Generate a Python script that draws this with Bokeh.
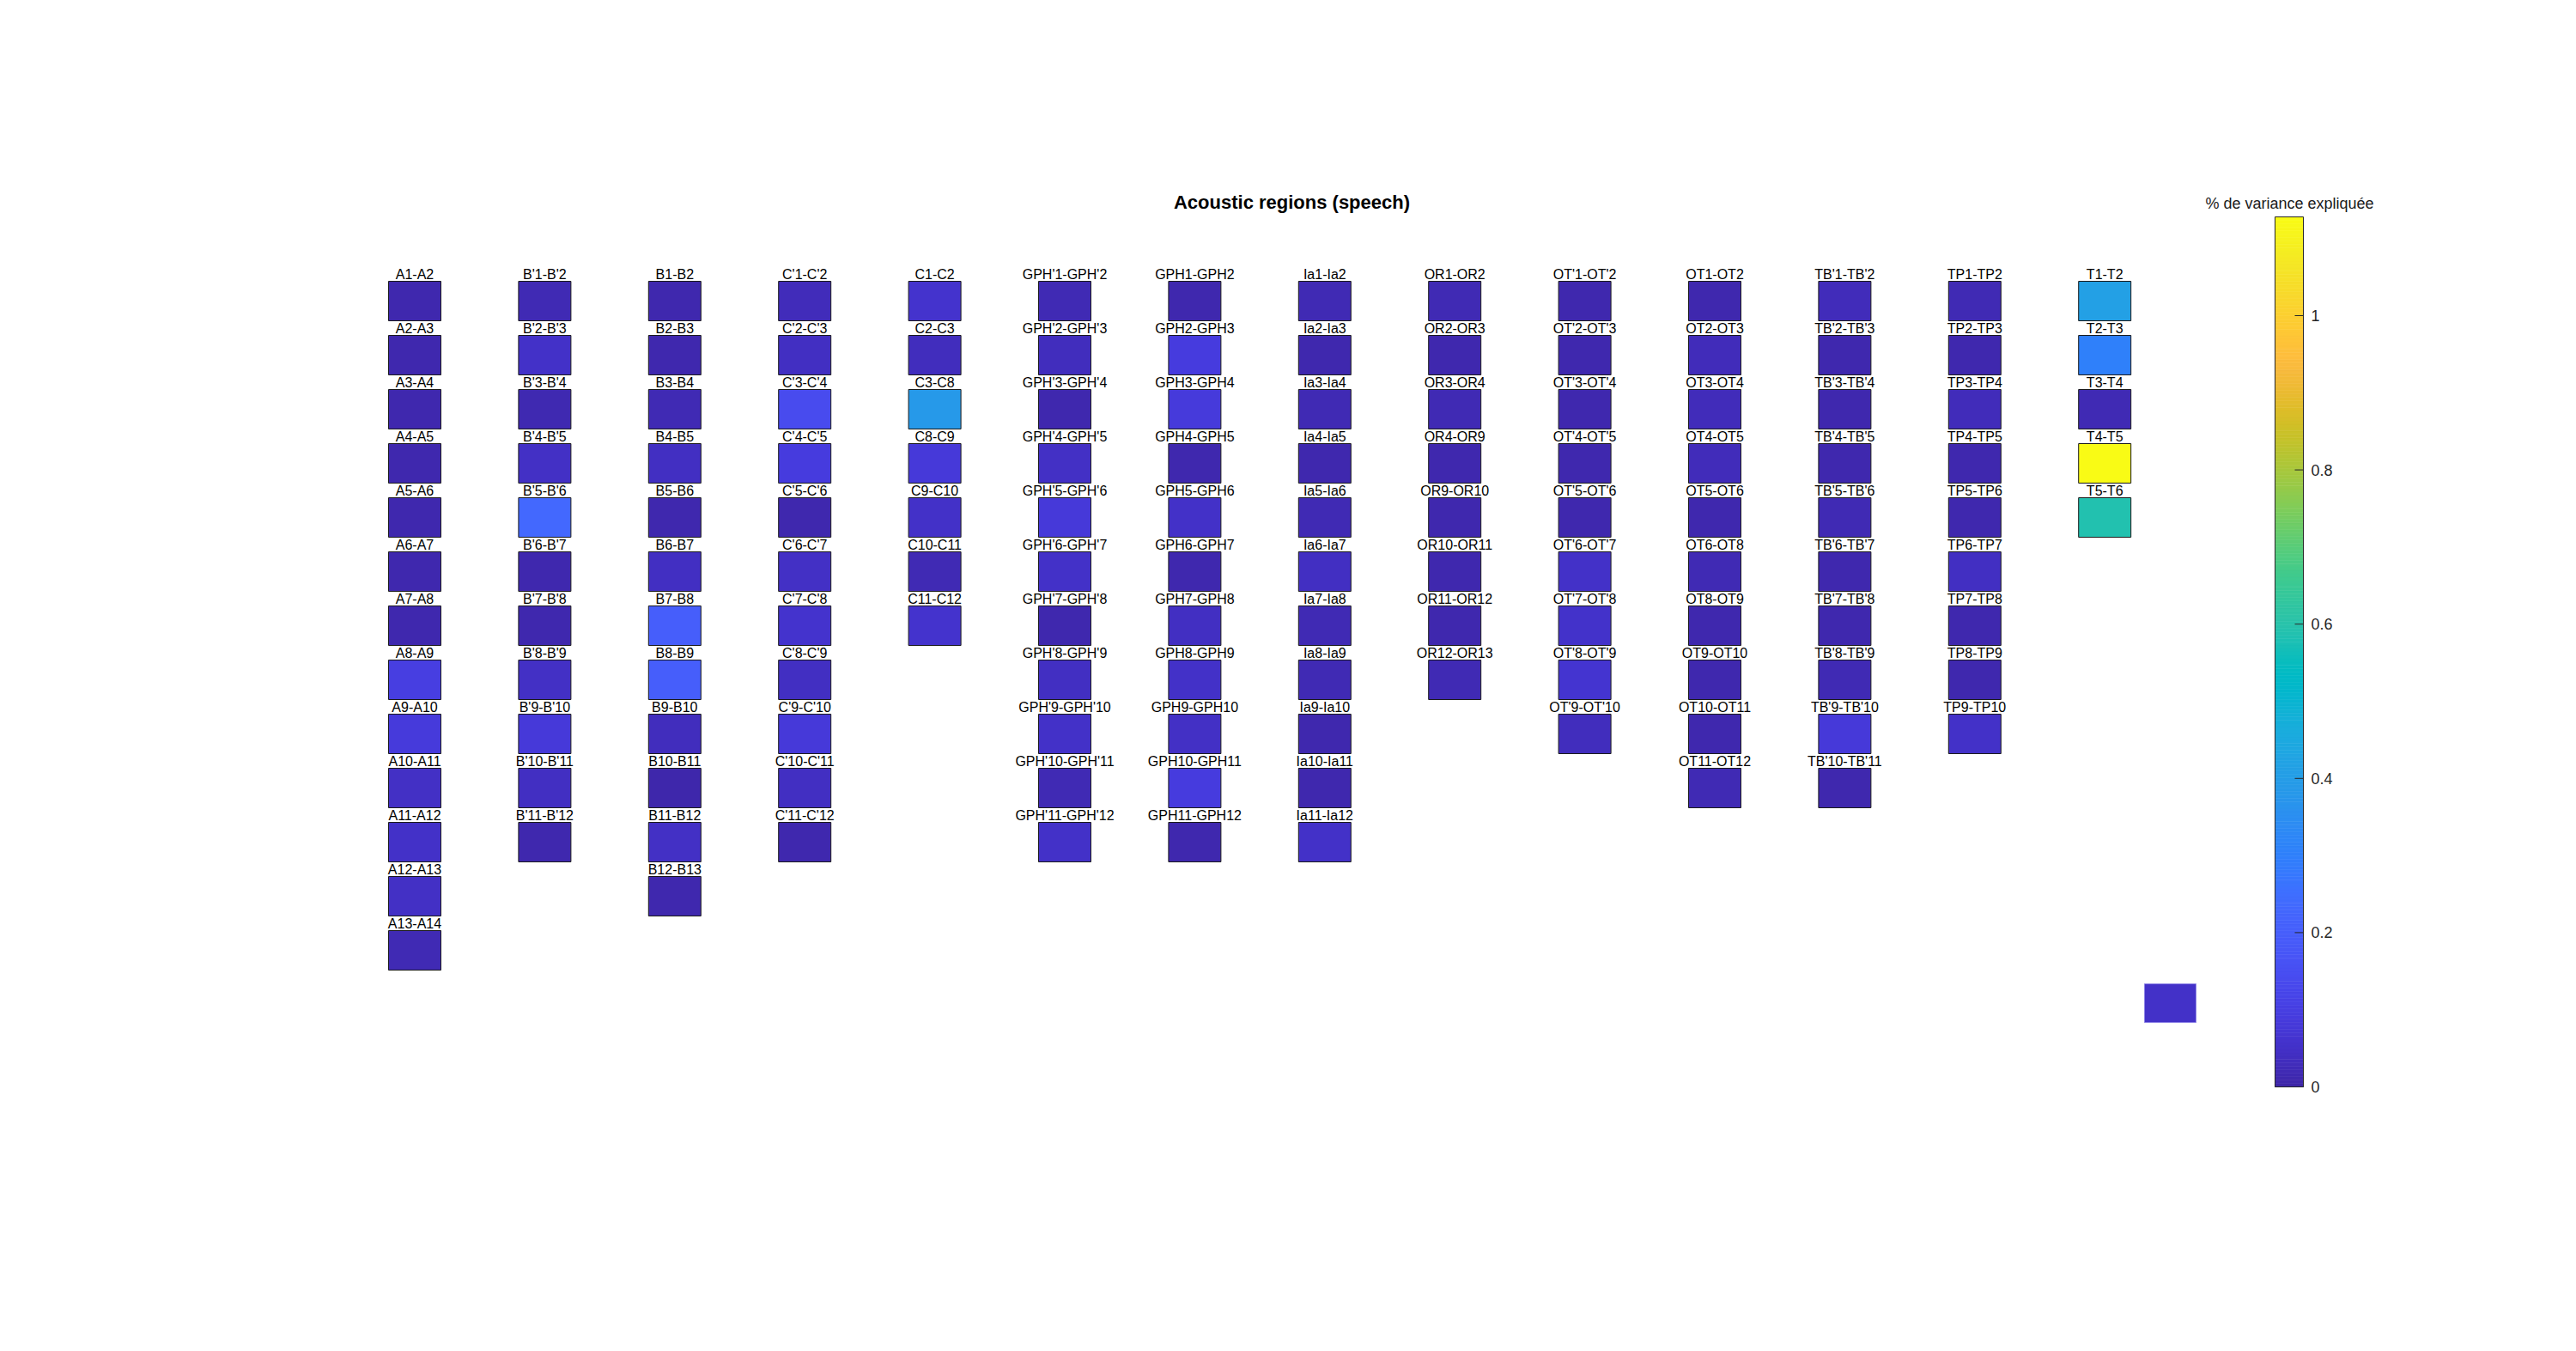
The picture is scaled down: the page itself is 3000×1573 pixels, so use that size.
import numpy as np
from bokeh.plotting import figure
from bokeh.models import Range1d, ColumnDataSource
from bokeh.transform import linear_cmap
from bokeh.core.properties import value
from bokeh.embed import file_html
from bokeh.resources import INLINE

# ---------------- data ----------------
labels_A = ["A1-A2", "A2-A3", "A3-A4", "A4-A5", "A5-A6", "A6-A7", "A7-A8", "A8-A9",
            "A9-A10", "A10-A11", "A11-A12", "A12-A13", "A13-A14"]
vals_A = [0.01, 0.01, 0.01, 0.01, 0.01, 0.01, 0.01, 0.10, 0.085, 0.045, 0.05, 0.045, 0.02]

labels_Bp = ["B'1-B'2", "B'2-B'3", "B'3-B'4", "B'4-B'5", "B'5-B'6", "B'6-B'7", "B'7-B'8",
             "B'8-B'9", "B'9-B'10", "B'10-B'11", "B'11-B'12"]
vals_Bp = [0.02, 0.05, 0.015, 0.045, 0.23, 0.01, 0.01, 0.045, 0.08, 0.04, 0.01]

labels_B = ["B1-B2", "B2-B3", "B3-B4", "B4-B5", "B5-B6", "B6-B7", "B7-B8", "B8-B9",
            "B9-B10", "B10-B11", "B11-B12", "B12-B13"]
vals_B = [0.01, 0.01, 0.02, 0.04, 0.01, 0.04, 0.20, 0.20, 0.035, 0.005, 0.045, 0.01]

labels_Cp = ["C'1-C'2", "C'2-C'3", "C'3-C'4", "C'4-C'5", "C'5-C'6", "C'6-C'7", "C'7-C'8",
             "C'8-C'9", "C'9-C'10", "C'10-C'11", "C'11-C'12"]
vals_Cp = [0.03, 0.04, 0.14, 0.09, 0.01, 0.045, 0.06, 0.04, 0.08, 0.04, 0.01]

labels_C = ["C1-C2", "C2-C3", "C3-C8", "C8-C9", "C9-C10", "C10-C11", "C11-C12"]
vals_C = [0.06, 0.035, 0.385, 0.08, 0.05, 0.02, 0.06]

labels_GPHp = ["GPH'1-GPH'2", "GPH'2-GPH'3", "GPH'3-GPH'4", "GPH'4-GPH'5", "GPH'5-GPH'6",
               "GPH'6-GPH'7", "GPH'7-GPH'8", "GPH'8-GPH'9", "GPH'9-GPH'10",
               "GPH'10-GPH'11", "GPH'11-GPH'12"]
vals_GPHp = [0.02, 0.035, 0.01, 0.045, 0.08, 0.05, 0.01, 0.04, 0.05, 0.02, 0.05]

labels_GPH = ["GPH1-GPH2", "GPH2-GPH3", "GPH3-GPH4", "GPH4-GPH5", "GPH5-GPH6", "GPH6-GPH7",
              "GPH7-GPH8", "GPH8-GPH9", "GPH9-GPH10", "GPH10-GPH11", "GPH11-GPH12"]
vals_GPH = [0.01, 0.09, 0.085, 0.01, 0.05, 0.01, 0.04, 0.05, 0.045, 0.09, 0.01]

labels_Ia = ["Ia1-Ia2", "Ia2-Ia3", "Ia3-Ia4", "Ia4-Ia5", "Ia5-Ia6", "Ia6-Ia7", "Ia7-Ia8",
             "Ia8-Ia9", "Ia9-Ia10", "Ia10-Ia11", "Ia11-Ia12"]
vals_Ia = [0.02, 0.01, 0.02, 0.01, 0.02, 0.04, 0.02, 0.02, 0.01, 0.01, 0.05]

labels_OR = ["OR1-OR2", "OR2-OR3", "OR3-OR4", "OR4-OR9", "OR9-OR10", "OR10-OR11",
             "OR11-OR12", "OR12-OR13"]
vals_OR = [0.02, 0.01, 0.02, 0.01, 0.01, 0.01, 0.01, 0.02]

labels_OTp = ["OT'1-OT'2", "OT'2-OT'3", "OT'3-OT'4", "OT'4-OT'5", "OT'5-OT'6",
              "OT'6-OT'7", "OT'7-OT'8", "OT'8-OT'9", "OT'9-OT'10"]
vals_OTp = [0.01, 0.01, 0.01, 0.01, 0.01, 0.05, 0.055, 0.065, 0.035]

labels_OT = ["OT1-OT2", "OT2-OT3", "OT3-OT4", "OT4-OT5", "OT5-OT6", "OT6-OT8", "OT8-OT9",
             "OT9-OT10", "OT10-OT11", "OT11-OT12"]
vals_OT = [0.01, 0.03, 0.03, 0.03, 0.01, 0.02, 0.01, 0.01, 0.01, 0.02]

labels_TBp = ["TB'1-TB'2", "TB'2-TB'3", "TB'3-TB'4", "TB'4-TB'5", "TB'5-TB'6", "TB'6-TB'7",
              "TB'7-TB'8", "TB'8-TB'9", "TB'9-TB'10", "TB'10-TB'11"]
vals_TBp = [0.03, 0.01, 0.01, 0.01, 0.02, 0.01, 0.01, 0.02, 0.08, 0.01]

labels_TP = ["TP1-TP2", "TP2-TP3", "TP3-TP4", "TP4-TP5", "TP5-TP6", "TP6-TP7", "TP7-TP8",
             "TP8-TP9", "TP9-TP10"]
vals_TP = [0.02, 0.01, 0.03, 0.01, 0.01, 0.04, 0.01, 0.01, 0.05]

labels_T = ["T1-T2", "T2-T3", "T3-T4", "T4-T5", "T5-T6"]
vals_T = [0.41, 0.30, 0.02, 1.128, 0.59]

stray_value = [0.05]

cbar_ticks = [0, 0.2, 0.4, 0.6, 0.8, 1]
cbar_tick_labels = ["0", "0.2", "0.4", "0.6", "0.8", "1"]
CMIN, CMAX = 0.0, 1.128

title_text = "Acoustic regions (speech)"
cbar_title = "% de variance expliquée"

groups = [(labels_A, vals_A), (labels_Bp, vals_Bp), (labels_B, vals_B), (labels_Cp, vals_Cp),
          (labels_C, vals_C), (labels_GPHp, vals_GPHp), (labels_GPH, vals_GPH),
          (labels_Ia, vals_Ia), (labels_OR, vals_OR), (labels_OTp, vals_OTp),
          (labels_OT, vals_OT), (labels_TBp, vals_TBp), (labels_TP, vals_TP),
          (labels_T, vals_T)]

# ---------------- parula colormap ----------------
parula64 = np.array([
    [0.2422, 0.1504, 0.6603], [0.2504, 0.1650, 0.7076], [0.2578, 0.1818, 0.7511],
    [0.2647, 0.1978, 0.7952], [0.2706, 0.2147, 0.8364], [0.2751, 0.2342, 0.8710],
    [0.2783, 0.2559, 0.8991], [0.2803, 0.2782, 0.9221], [0.2813, 0.3006, 0.9414],
    [0.2810, 0.3228, 0.9579], [0.2795, 0.3447, 0.9717], [0.2760, 0.3667, 0.9829],
    [0.2699, 0.3892, 0.9906], [0.2602, 0.4123, 0.9952], [0.2440, 0.4358, 0.9988],
    [0.2206, 0.4603, 0.9973], [0.1963, 0.4847, 0.9892], [0.1834, 0.5074, 0.9798],
    [0.1786, 0.5289, 0.9682], [0.1764, 0.5499, 0.9520], [0.1687, 0.5703, 0.9359],
    [0.1540, 0.5902, 0.9218], [0.1460, 0.6091, 0.9079], [0.1380, 0.6276, 0.8973],
    [0.1248, 0.6459, 0.8883], [0.1113, 0.6635, 0.8763], [0.0952, 0.6798, 0.8598],
    [0.0689, 0.6948, 0.8394], [0.0297, 0.7082, 0.8163], [0.0036, 0.7203, 0.7917],
    [0.0067, 0.7312, 0.7660], [0.0433, 0.7411, 0.7394], [0.0964, 0.7500, 0.7120],
    [0.1408, 0.7584, 0.6842], [0.1717, 0.7670, 0.6554], [0.1938, 0.7758, 0.6251],
    [0.2161, 0.7843, 0.5923], [0.2470, 0.7918, 0.5567], [0.2906, 0.7973, 0.5188],
    [0.3406, 0.8008, 0.4789], [0.3909, 0.8029, 0.4354], [0.4456, 0.8024, 0.3909],
    [0.5044, 0.7993, 0.3480], [0.5616, 0.7942, 0.3045], [0.6174, 0.7876, 0.2612],
    [0.6720, 0.7793, 0.2227], [0.7242, 0.7698, 0.1910], [0.7738, 0.7598, 0.1646],
    [0.8203, 0.7498, 0.1535], [0.8634, 0.7406, 0.1596], [0.9035, 0.7330, 0.1774],
    [0.9393, 0.7288, 0.2100], [0.9728, 0.7298, 0.2394], [0.9956, 0.7434, 0.2371],
    [0.9970, 0.7659, 0.2199], [0.9952, 0.7893, 0.2028], [0.9892, 0.8136, 0.1885],
    [0.9786, 0.8386, 0.1766], [0.9676, 0.8639, 0.1643], [0.9610, 0.8890, 0.1537],
    [0.9597, 0.9135, 0.1423], [0.9628, 0.9373, 0.1265], [0.9691, 0.9606, 0.1064],
    [0.9769, 0.9839, 0.0805]])
t64 = np.linspace(0, 1, 64)
t256 = np.linspace(0, 1, 256)
par = np.stack([np.interp(t256, t64, parula64[:, k]) for k in range(3)], axis=1)
palette = ["#%02x%02x%02x" % tuple(int(round(c * 255)) for c in row) for row in par]

# ---------------- geometry (screen px inside the figure) ----------------
W, H = 2984, 1557
COL0, COLSTEP = 482.5, 151.4     # first column centre, column pitch
ROW0, ROWSTEP = 350.0, 63.0      # first row centre, row pitch
CELL_W, CELL_H = 61.0, 46.0


def sx(px):
    return (px - COL0) / COLSTEP


def sy(py):
    return (py - ROW0) / ROWSTEP


p = figure(width=W, height=H, output_backend="svg", toolbar_location=None,
           x_range=Range1d(sx(0), sx(W)), y_range=Range1d(sy(H), sy(0)),
           x_axis_location=None, y_axis_location=None, min_border=0,
           tools="")
p.grid.visible = False
p.outline_line_color = None
p.background_fill_color = "white"
p.border_fill_color = "white"

cols, rows, vals, labs = [], [], [], []
for gi, (lab, val) in enumerate(groups):
    for ri, (l, v) in enumerate(zip(lab, val)):
        cols.append(gi)
        rows.append(ri)
        vals.append(v)
        labs.append(l)
src = ColumnDataSource(dict(col=cols, row=rows, v=vals, label=labs,
                            ly=[r - (CELL_H / 2 + 8.5) / ROWSTEP for r in rows]))

cmap = linear_cmap("v", palette, CMIN, CMAX)
p.rect(x="col", y="row", width=CELL_W / COLSTEP, height=CELL_H / ROWSTEP, source=src,
       fill_color=cmap, line_color="#1a1a1a", line_width=1)
p.text(x="col", y="ly", text="label", source=src, text_align="center",
       text_baseline="middle", text_font=value("Liberation Sans"),
       text_font_size="16px", text_color="black")

# stray patch at lower right
ssrc = ColumnDataSource(dict(x=[sx(2527)], y=[sy(1167.5)], v=stray_value))
p.rect(x="x", y="y", width=60 / COLSTEP, height=45 / ROWSTEP, source=ssrc,
       fill_color=cmap, line_color="#8f85e6", line_width=1)

# title
p.text(x=[sx(1504)], y=[sy(235)], text=[title_text], text_align="center",
       text_baseline="middle", text_font=value("Liberation Sans"),
       text_font_size="22px", text_font_style="bold", text_color="black")

# ---------------- colour bar ----------------
CB_ZERO, CB_PX = 1265.0, 898.0   # px of value 0, px per unit
p.extra_y_ranges = {"cb": Range1d(start=(CB_ZERO - H) / CB_PX, end=CB_ZERO / CB_PX)}
edges = np.linspace(CMIN, CMAX, len(palette) + 1)
cb_left, cb_right = sx(2649), sx(2682)
p.quad(left=cb_left, right=cb_right, bottom=edges[:-1], top=edges[1:],
       fill_color=palette, line_color=palette, line_width=0.6, y_range_name="cb")
p.quad(left=[cb_left], right=[cb_right], bottom=[CMIN], top=[CMAX], fill_color=None,
       line_color="#262626", line_width=1, y_range_name="cb")
p.segment(x0=[sx(2672)] * len(cbar_ticks), x1=[cb_right] * len(cbar_ticks),
          y0=cbar_ticks, y1=cbar_ticks, line_color="#262626", line_width=1,
          y_range_name="cb")
p.text(x=[sx(2691)] * len(cbar_ticks), y=cbar_ticks, text=cbar_tick_labels,
       text_align="left", text_baseline="middle", text_font=value("Liberation Sans"),
       text_font_size="18px", text_color="#262626", y_range_name="cb")
p.text(x=[sx(2666)], y=[sy(236)], text=[cbar_title], text_align="center",
       text_baseline="middle", text_font=value("Liberation Sans"),
       text_font_size="18px", text_color="#1a1a1a")

open("out.html", "w").write(file_html(p, INLINE))
